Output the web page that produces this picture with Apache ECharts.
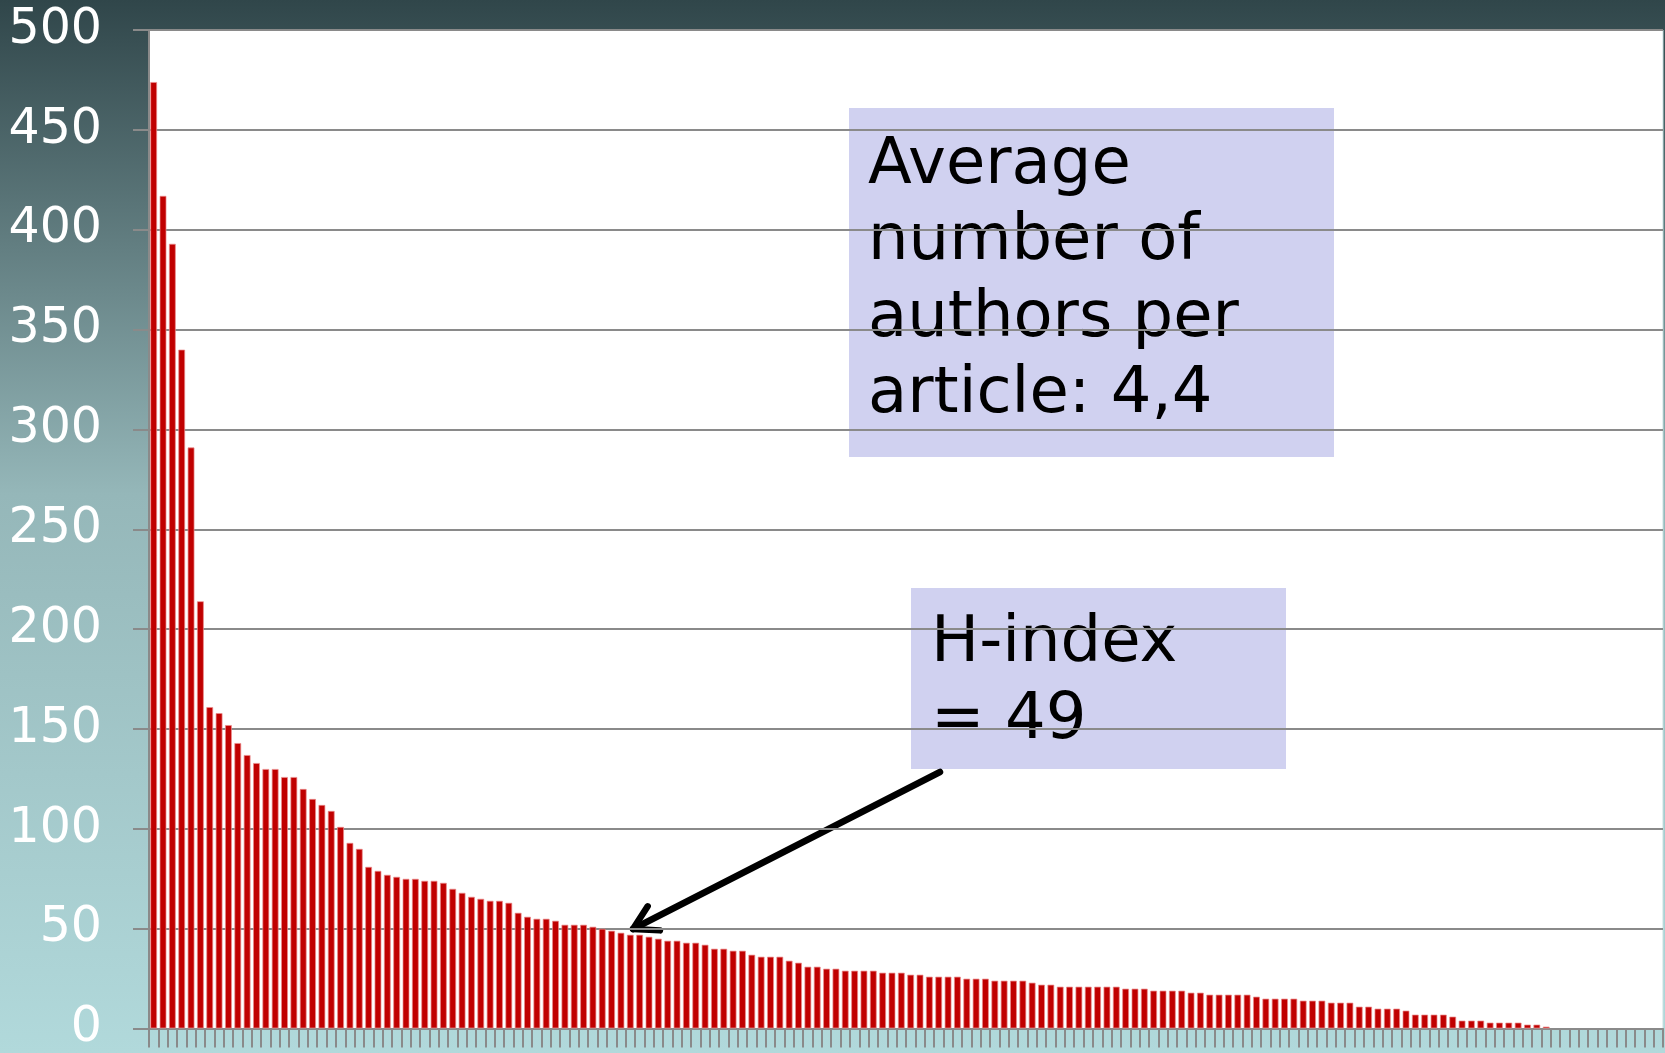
<!DOCTYPE html>
<html>
  <head>
    <meta charset="utf-8" />
    <title>Citations per article</title>
    <script src="https://cdn.jsdelivr.net/npm/echarts@6.0.0/dist/echarts.min.js"></script>
  </head>
  <body style="margin: 0; padding: 0; border: 0">
    <div
      id="main"
      style="width: 1665px; height: 1053px; background: linear-gradient(to bottom, #30464a 0%, #95b7b9 47%, #b1d9db 100%)"
    ></div>
    <script type="text/javascript">
      // citations per article, sorted (150 articles with citations, 12 without)
      var citations = [
        474, 417, 393, 340, 291, 214, 161, 158, 152, 143,
        137, 133, 130, 130, 126, 126, 120, 115, 112, 109,
        101, 93, 90, 81, 79, 77, 76, 75, 75, 74,
        74, 73, 70, 68, 66, 65, 64, 64, 63, 58,
        56, 55, 55, 54, 52, 52, 52, 51, 50, 49,
        48, 47, 47, 46, 45, 44, 44, 43, 43, 42,
        40, 40, 39, 39, 37, 36, 36, 36, 34, 33,
        31, 31, 30, 30, 29, 29, 29, 29, 28, 28,
        28, 27, 27, 26, 26, 26, 26, 25, 25, 25,
        24, 24, 24, 24, 23, 22, 22, 21, 21, 21,
        21, 21, 21, 21, 20, 20, 20, 19, 19, 19,
        19, 18, 18, 17, 17, 17, 17, 17, 16, 15,
        15, 15, 15, 14, 14, 14, 13, 13, 13, 11,
        11, 10, 10, 10, 9, 7, 7, 7, 7, 6,
        4, 4, 4, 3, 3, 3, 3, 2, 2, 1
      ];
      var articleCount = 162;
      var articles = [];
      for (var i = 1; i <= articleCount; i++) articles.push(String(i));

      var yMin = 0;
      var yMax = 500;
      var yStep = 50;

      var avgText = ["Average", "number of", "authors per", "article: 4,4"];
      var hText = ["H-index", "= 49"];

      // arrow from the H-index box down to the h-th bar
      var arrowFrom = [940, 772];
      var arrowTip = [633, 929];
      var dx = arrowFrom[0] - arrowTip[0];
      var dy = arrowFrom[1] - arrowTip[1];
      var len = Math.sqrt(dx * dx + dy * dy);
      var ux = dx / len, uy = dy / len;
      function arm(a) {
        var c = Math.cos(a), s = Math.sin(a);
        return [arrowTip[0] + 27 * (ux * c - uy * s), arrowTip[1] + 27 * (ux * s + uy * c)];
      }

      var font = "'DejaVu Sans', Verdana, sans-serif";
      var grey = "#8a8a8a";

      var myChart = echarts.init(document.getElementById("main"));
      myChart.setOption({
        backgroundColor: "transparent",
        animation: false,
        grid: {
          left: 149,
          right: 2,
          top: 30,
          bottom: 19,
          show: true,
          backgroundColor: "#ffffff",
          borderWidth: 1,
          borderColor: "#c8e0e2",
        },
        xAxis: {
          type: "category",
          data: articles,
          boundaryGap: true,
          axisLine: { lineStyle: { color: grey, width: 2 } },
          axisTick: { show: true, interval: 0, length: 19, lineStyle: { color: grey, width: 2 } },
          axisLabel: { show: false },
          splitLine: { show: false },
        },
        yAxis: {
          type: "value",
          min: yMin,
          max: yMax,
          interval: yStep,
          axisLine: { show: true, lineStyle: { color: grey, width: 2 } },
          axisTick: { show: true, length: 16, lineStyle: { color: grey, width: 2 } },
          axisLabel: {
            color: "#ffffff",
            fontFamily: font,
            fontSize: 49,
            margin: 47,
          },
          splitLine: { lineStyle: { color: grey, width: 2 } },
        },
        series: [
          {
            type: "bar",
            data: citations,
            barWidth: 7,
            itemStyle: {
              color: "#c00000",
              borderColor: "rgba(235,140,140,0.7)",
              borderWidth: 1,
            },
          },
        ],
        graphic: [
          {
            type: "rect",
            shape: { x: 849, y: 108, width: 485, height: 349 },
            style: { fill: "#d0d1f0" },
          },
          {
            type: "text",
            x: 868,
            y: 128,
            style: {
              text: avgText.join("\n"),
              font: "64px " + font,
              fill: "#000000",
              lineHeight: 76.5,
              verticalAlign: "top",
            },
          },
          {
            type: "rect",
            shape: { x: 911, y: 588, width: 375, height: 181 },
            style: { fill: "#d0d1f0" },
          },
          {
            type: "text",
            x: 931,
            y: 606,
            style: {
              text: hText.join("\n"),
              font: "64px " + font,
              fill: "#000000",
              lineHeight: 77,
              verticalAlign: "top",
            },
          },
          {
            type: "line",
            shape: { x1: arrowFrom[0], y1: arrowFrom[1], x2: arrowTip[0], y2: arrowTip[1] },
            style: { stroke: "#000", lineWidth: 6.5, lineCap: "round" },
          },
          {
            type: "polyline",
            shape: { points: [arm(-Math.PI / 6), arrowTip, arm(Math.PI / 6)] },
            style: { stroke: "#000", lineWidth: 6.5, lineCap: "round", lineJoin: "round", fill: null },
          },
        ],
      });
    </script>
  </body>
</html>
